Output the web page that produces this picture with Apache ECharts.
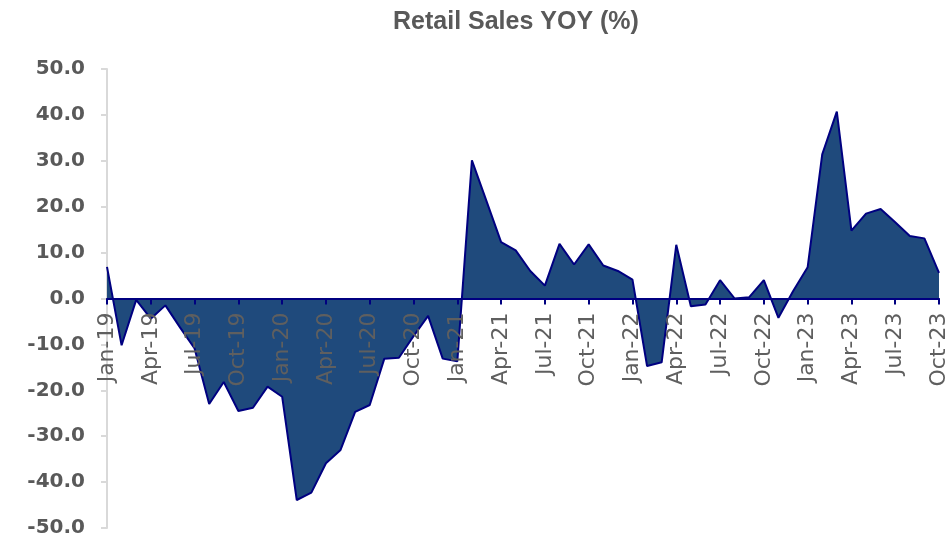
<!DOCTYPE html>
<html>
<head>
<meta charset="utf-8">
<script src="https://cdn.jsdelivr.net/npm/echarts@6/dist/echarts.min.js"></script>
<style>
  html, body { margin: 0; padding: 0; background: #fff; }
  #chart { width: 951px; height: 539px; }
</style>
</head>
<body>
<div id="chart"></div>
<script>
// 月份
const months = [
  'Jan-19', 'Feb-19', 'Mar-19', 'Apr-19', 'May-19', 'Jun-19', 'Jul-19', 'Aug-19', 'Sep-19', 'Oct-19', 'Nov-19', 'Dec-19',
  'Jan-20', 'Feb-20', 'Mar-20', 'Apr-20', 'May-20', 'Jun-20', 'Jul-20', 'Aug-20', 'Sep-20', 'Oct-20', 'Nov-20', 'Dec-20',
  'Jan-21', 'Feb-21', 'Mar-21', 'Apr-21', 'May-21', 'Jun-21', 'Jul-21', 'Aug-21', 'Sep-21', 'Oct-21', 'Nov-21', 'Dec-21',
  'Jan-22', 'Feb-22', 'Mar-22', 'Apr-22', 'May-22', 'Jun-22', 'Jul-22', 'Aug-22', 'Sep-22', 'Oct-22', 'Nov-22', 'Dec-22',
  'Jan-23', 'Feb-23', 'Mar-23', 'Apr-23', 'May-23', 'Jun-23', 'Jul-23', 'Aug-23', 'Sep-23', 'Oct-23',
]

// 零售额同比 (%)
const retailYoy = [
  6.9, -10.2, -0.3, -4.4, -1.5, -6.3, -10.9, -23.0, -18.2, -24.5, -23.8, -19.2,
  -21.4, -43.9, -42.3, -35.9, -33.0, -24.7, -23.2, -13.1, -12.9, -8.2, -3.8, -13.1,
  -13.7, 30.1, 21.2, 12.3, 10.5, 6.0, 2.8, 11.9, 7.4, 11.8, 7.2, 6.0,
  4.1, -14.7, -13.9, 11.7, -1.7, -1.3, 4.0, 0.0, 0.3, 4.0, -4.2, 1.6,
  6.8, 31.4, 40.7, 14.8, 18.5, 19.5, 16.6, 13.6, 13.1, 5.6,
]

const yMin = -50
const yMax = 50
const yStep = 10

const gridTop = 69
const gridBottom = 11
const gridHeight = 539 - gridTop - gridBottom
// x 轴放在 0 刻度处
const zeroOffset = -gridHeight * (0 - yMin) / (yMax - yMin)

const chart = echarts.init(document.getElementById('chart'))

chart.setOption({
  animation: false,
  title: {
    text: 'Retail Sales YOY (%)',
    left: 388,
    top: 5,
    textStyle: {
      fontFamily: 'Liberation Sans',
      fontSize: 25,
      fontWeight: 'bold',
      color: '#595959',
    },
  },
  grid: {
    left: 107,
    right: 12,
    top: gridTop,
    bottom: gridBottom,
    containLabel: false,
    outerBoundsMode: 'none',
  },
  xAxis: {
    type: 'category',
    data: months,
    boundaryGap: false,
    offset: zeroOffset,
    z: 5,
    axisLine: {
      onZero: false,
      lineStyle: { color: '#000080', width: 2 },
    },
    axisTick: {
      interval: 2,
      length: 6,
      lineStyle: { color: '#000080', width: 2 },
    },
    axisLabel: {
      interval: 2,
      rotate: 90,
      margin: 14,
      fontFamily: 'DejaVu Sans',
      fontSize: 22,
      color: '#5f5f5f',
    },
    splitLine: { show: false },
  },
  yAxis: {
    type: 'value',
    min: yMin,
    max: yMax,
    interval: yStep,
    axisLine: {
      show: true,
      lineStyle: { color: '#d9d9d9', width: 2 },
    },
    axisTick: {
      show: true,
      length: 6,
      lineStyle: { color: '#d9d9d9', width: 2 },
    },
    axisLabel: {
      margin: 22,
      fontFamily: 'DejaVu Sans',
      fontSize: 20,
      fontWeight: 'bold',
      color: '#595959',
      formatter: v => v.toFixed(1),
    },
    splitLine: { show: false },
  },
  series: [
    {
      type: 'line',
      data: retailYoy,
      symbol: 'none',
      lineStyle: { color: '#000080', width: 2 },
      areaStyle: { color: '#1f4a7c', opacity: 1 },
      z: 1,
    },
  ],
})
</script>
</body>
</html>
